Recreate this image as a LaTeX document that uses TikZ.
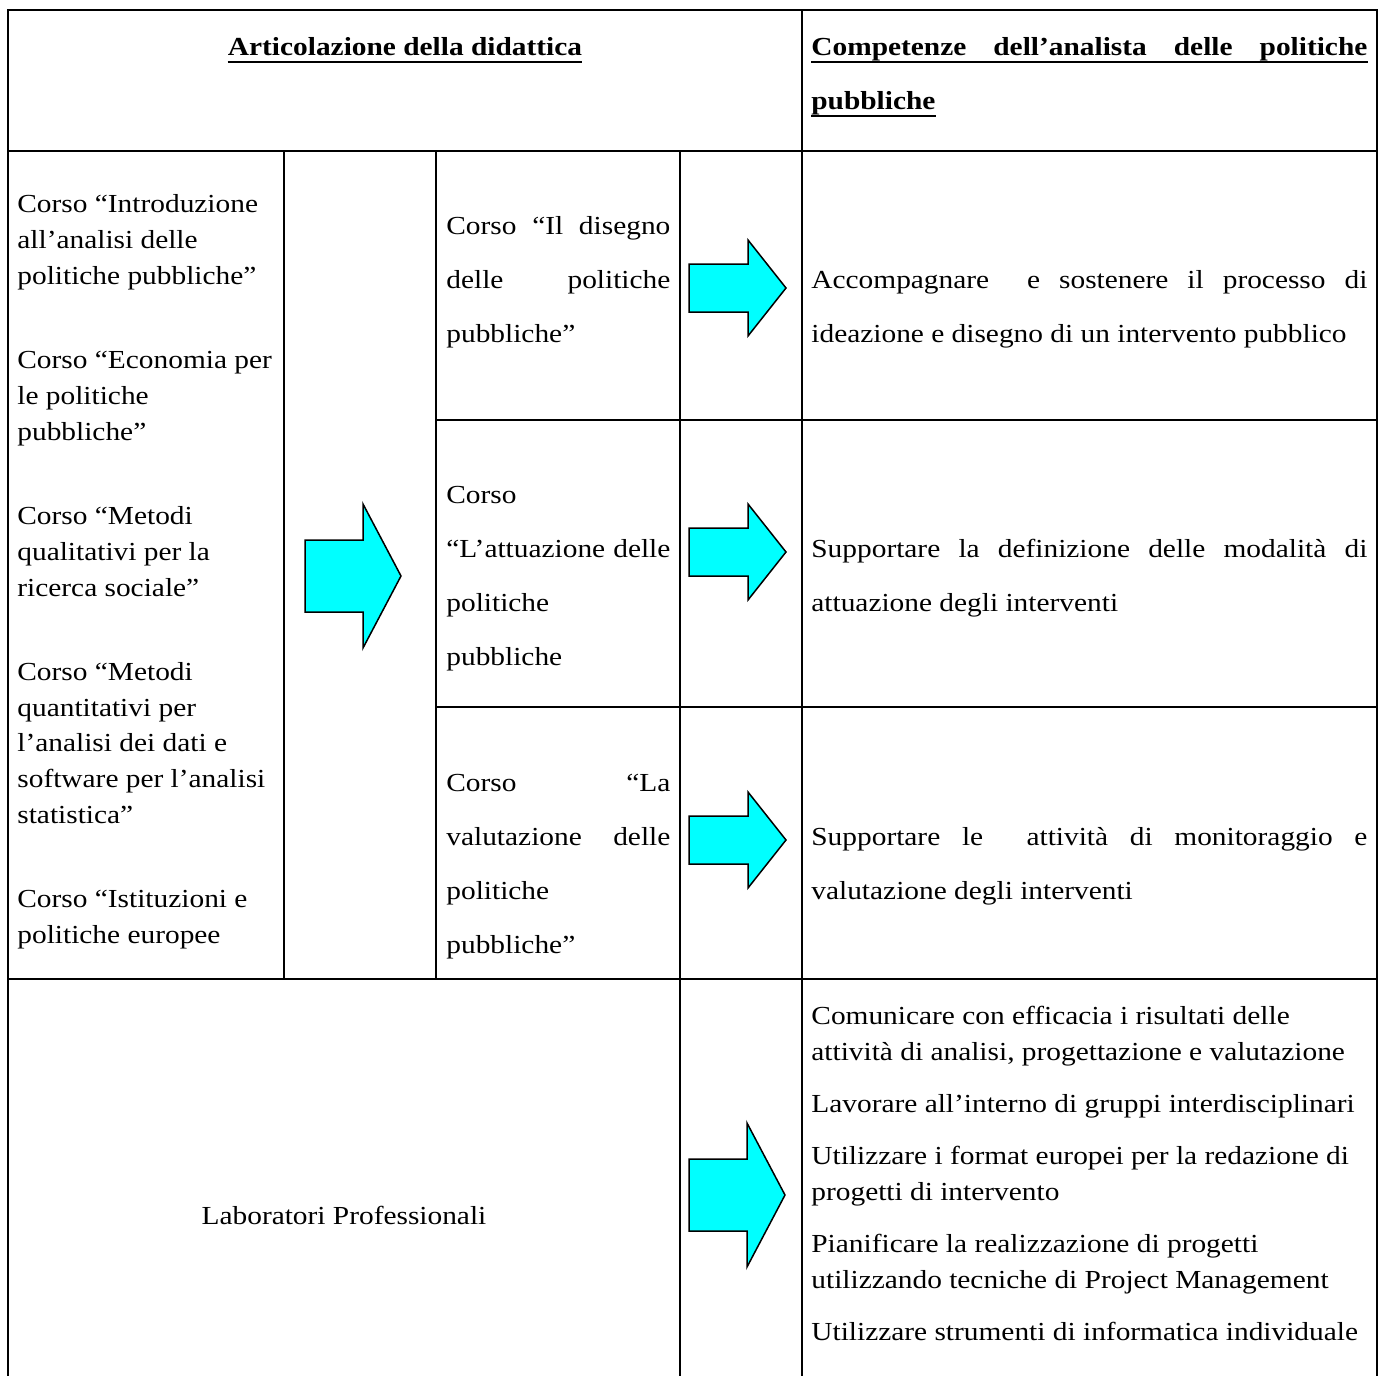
\documentclass[tikz,border=0pt]{standalone}
\usepackage{fontspec}
\setmainfont[FakeStretch=1.13]{Liberation Serif}
\definecolor{aqua}{RGB}{0,255,255}
\begin{document}
\begin{tikzpicture}[x=0.5pt,y=-0.5pt,
  grid/.style={line width=0.9pt},
  uline/.style={line width=0.8pt},
  txt/.style={anchor=base west, inner sep=0pt, font=\fontsize{13}{15}\selectfont},
  hd/.style={txt, font=\fontsize{13}{15}\selectfont\bfseries},
  arr/.style={draw, line width=0.75pt, fill=aqua, line join=miter},
  pics/bigarrow/.style={code={\draw[arr] (0,-36) -- (58,-36) -- (58,-72) -- (96,0) -- (58,72) -- (58,36) -- (0,36) -- cycle;}},
  pics/smallarrow/.style={code={\draw[arr] (0,-24) -- (59,-24) -- (59,-48) -- (97,0) -- (59,48) -- (59,24) -- (0,24) -- cycle;}}
]
\useasboundingbox (0,0) rectangle (1389,1376);
% grid
\draw[grid] (8,1376) -- (8,10) -- (1377,10) -- (1377,1376);
\draw[grid] (802,10) -- (802,1376);
\draw[grid] (8,151) -- (1377,151);
\draw[grid] (8,979) -- (1377,979);
\draw[grid] (436,420) -- (1377,420);
\draw[grid] (436,707) -- (1377,707);
\draw[grid] (284,151) -- (284,979);
\draw[grid] (436,151) -- (436,979);
\draw[grid] (680,151) -- (680,1376);
% header
\node[hd, anchor=base] (h1) at (405,55) {Articolazione della didattica};
\draw[uline] ([yshift=-3.5pt]h1.base west) -- ([yshift=-3.5pt]h1.base east);
\node[hd] (h2) at (811,55) {\makebox[278pt][s]{Competenze dell'analista delle politiche}};
\draw[uline] ([yshift=-3.5pt]h2.base west) -- ([yshift=-3.5pt]h2.base east);
\node[hd] (h3) at (811,109) {pubbliche};
\draw[uline] ([yshift=-3.5pt]h3.base west) -- ([yshift=-3.5pt]h3.base east);
% left column
\node[txt] (l1) at (17,212) {Corso ``Introduzione};
\node[txt] (l2) at (17,248) {all'analisi delle};
\node[txt] (l3) at (17,284) {politiche pubbliche''};
\node[txt] (l4) at (17,368) {Corso ``Economia per};
\node[txt] (l5) at (17,404) {le politiche};
\node[txt] (l6) at (17,440) {pubbliche''};
\node[txt] (l7) at (17,524) {Corso ``Metodi};
\node[txt] (l8) at (17,560) {qualitativi per la};
\node[txt] (l9) at (17,596) {ricerca sociale''};
\node[txt] (l10) at (17,680) {Corso ``Metodi};
\node[txt] (l11) at (17,716) {quantitativi per};
\node[txt] (l12) at (17,751) {l'analisi dei dati e};
\node[txt] (l13) at (17,787) {software per l'analisi};
\node[txt] (l14) at (17,823) {statistica''};
\node[txt] (l15) at (17,907) {Corso ``Istituzioni e};
\node[txt] (l16) at (17,943) {politiche europee};
% middle column
\node[txt] (m1) at (446,234) {\makebox[112pt][s]{Corso ``Il disegno}};
\node[txt] (m2) at (446,288) {\makebox[112pt][s]{delle politiche}};
\node[txt] (m3) at (446,342) {pubbliche''};
\node[txt] (m4) at (446,503) {Corso};
\node[txt] (m5) at (446,557) {\makebox[112pt][s]{``L'attuazione delle}};
\node[txt] (m6) at (446,611) {politiche};
\node[txt] (m7) at (446,665) {pubbliche};
\node[txt] (m8) at (446,791) {\makebox[112pt][s]{Corso ``La}};
\node[txt] (m9) at (446,845) {\makebox[112pt][s]{valutazione delle}};
\node[txt] (m10) at (446,899) {politiche};
\node[txt] (m11) at (446,953) {pubbliche''};
% right column
\node[txt] (r1) at (811,288) {\makebox[278pt][s]{Accompagnare\ \ e sostenere il processo di}};
\node[txt] (r2) at (811,342) {ideazione e disegno di un intervento pubblico};
\node[txt] (r3) at (811,557) {\makebox[278pt][s]{Supportare la definizione delle modalità di}};
\node[txt] (r4) at (811,611) {attuazione degli interventi};
\node[txt] (r5) at (811,845) {\makebox[278pt][s]{Supportare le\ \ attività di monitoraggio e}};
\node[txt] (r6) at (811,899) {valutazione degli interventi};
% bottom
\node[txt, anchor=base] (lab) at (344,1224) {Laboratori Professionali};
\node[txt] (b1) at (811,1024) {Comunicare con efficacia i risultati delle};
\node[txt] (b2) at (811,1060) {attività di analisi, progettazione e valutazione};
\node[txt] (b3) at (811,1112) {Lavorare all'interno di gruppi interdisciplinari};
\node[txt] (b4) at (811,1164) {Utilizzare i format europei per la redazione di};
\node[txt] (b5) at (811,1200) {progetti di intervento};
\node[txt] (b6) at (811,1252) {Pianificare la realizzazione di progetti};
\node[txt] (b7) at (811,1288) {utilizzando tecniche di Project Management};
\node[txt] (b8) at (811,1340) {Utilizzare strumenti di informatica individuale};
% arrows
\pic at (305,576) {bigarrow};
\pic at (689,288) {smallarrow};
\pic at (689,552) {smallarrow};
\pic at (689,840) {smallarrow};
\pic at (689,1195) {bigarrow};
\end{tikzpicture}
\end{document}
